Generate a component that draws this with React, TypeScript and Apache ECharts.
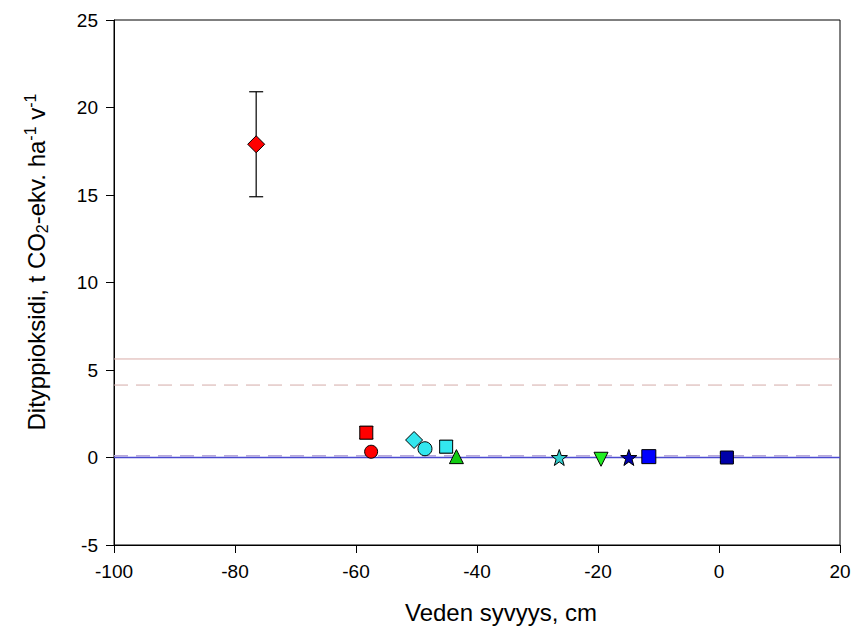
import React, { useEffect, useRef } from "react";
import * as echarts from "echarts";

const depths = [-76.5, -58.3, -57.5, -50.4, -48.6, -45.1, -43.4, -26.4, -19.5, -14.9, -11.6, 1.3];
const emissions = [17.9, 1.42, 0.33, 1.0, 0.5, 0.62, 0.05, 0.0, -0.1, 0.0, 0.05, 0.0];
const errors = [3.0, 0.35, 0, 0, 0, 0.35, 0, 0, 0, 0, 0, 0.25];
const markerShapes = ["diamond", "rect", "circle", "diamond", "circle", "rect", "triangle", "star", "triangleDown", "star", "rect", "rect"];
const markerColors = ["#ff0000", "#ff0000", "#ff0000", "#33e6ee", "#33e6ee", "#33e6ee", "#11cc11", "#33cccc", "#22ee22", "#0000b0", "#0000ff", "#0000a8"];
const markerSizes = [17, 13, 13, 17, 14, 13, 14, 16, 14, 16, 14, 13];

const refLevels = [5.63, 4.14, 0.1, 0.0];
const refColors = ["#d9aca8", "#d4aca8", "#b8a8dc", "#4a4ad0"];
const refTypes = ["solid", "dashed", "dashed", "solid"];
const refWidths = [1, 1, 1.5, 1.5];

const xTicks = { min: -100, max: 20, interval: 20 };
const yTicks = { min: -5, max: 25, interval: 5 };

const xTitle = "Veden syvyys, cm";
const yTitleParts = ["Dityppioksidi, t CO", "2", "-ekv. ha", "-1", " v", "-1"];

const STAR = "path://M0,-10 L2.35,-3.24 L9.51,-3.09 L3.8,1.24 L5.88,8.09 L0,4 L-5.88,8.09 L-3.8,1.24 L-9.51,-3.09 L-2.35,-3.24 Z";

function symbolFor(s: string) {
  if (s === "star") return STAR;
  if (s === "triangleDown") return "triangle";
  return s;
}

export default function App() {
  const ref = useRef<HTMLDivElement>(null);
  useEffect(() => {
    if (!ref.current) return;
    const chart = echarts.init(ref.current, null, { renderer: "svg" });
    const font = "Liberation Sans, Arial, sans-serif";

    const refSeries = refLevels.map((lv, i) => ({
      type: "line",
      data: [[xTicks.min, lv], [xTicks.max, lv]],
      symbol: "none",
      silent: true,
      z: 1,
      lineStyle: { color: refColors[i], width: refWidths[i], type: refTypes[i] === "dashed" ? [14, 8] : "solid" },
    }));

    const errData = depths.map((x, i) => [x, emissions[i], errors[i]]).filter((d) => d[2] > 0);

    const yTitle =
      `{t|${yTitleParts[0]}}{sub|${yTitleParts[1]}}{t|${yTitleParts[2]}}{sup|${yTitleParts[3]}}{t|${yTitleParts[4]}}{sup|${yTitleParts[5]}}`;

    const option: any = {
      animation: false,
      grid: { left: 114, right: 14, top: 20, bottom: 89, show: true, borderColor: "#000", borderWidth: 1, backgroundColor: "transparent" },
      graphic: [
        {
          type: "text",
          x: 501,
          y: 612,
          style: { text: xTitle, font: `24px ${font}`, fill: "#000", textAlign: "center", textVerticalAlign: "middle" },
        },
        {
          type: "text",
          x: 36,
          y: 262,
          rotation: Math.PI / 2,
          style: {
            text: yTitle,
            textAlign: "center",
            textVerticalAlign: "middle",
            rich: {
              t: { fontFamily: font, fontSize: 24, fill: "#000", color: "#000" },
              sub: { fontFamily: font, fontSize: 16, fill: "#000", color: "#000", verticalAlign: "bottom", padding: [12, 0, 0, 0] },
              sup: { fontFamily: font, fontSize: 16, fill: "#000", color: "#000", verticalAlign: "top", padding: [0, 0, 12, 0] },
            },
          },
        },
      ],
      xAxis: {
        type: "value",
        min: xTicks.min,
        max: xTicks.max,
        interval: xTicks.interval,
        axisLine: { show: true, onZero: false, lineStyle: { color: "#000", width: 1 } },
        axisTick: { show: true, length: 8, inside: false, lineStyle: { color: "#000" } },
        axisLabel: { fontFamily: font, fontSize: 19, color: "#000", margin: 17 },
        splitLine: { show: false },
      },
      yAxis: {
        type: "value",
        min: yTicks.min,
        max: yTicks.max,
        interval: yTicks.interval,
        axisLine: { show: true, onZero: false, lineStyle: { color: "#000", width: 1 } },
        axisTick: { show: true, length: 8, inside: false, lineStyle: { color: "#000" } },
        axisLabel: { fontFamily: font, fontSize: 19, color: "#000", margin: 16 },
        splitLine: { show: false },
      },
      series: [
        ...refSeries,
        {
          type: "custom",
          z: 2,
          silent: true,
          data: errData,
          renderItem: (params: any, api: any) => {
            const x = api.value(0), y = api.value(1), e = api.value(2);
            const top = api.coord([x, y + e]);
            const bot = api.coord([x, y - e]);
            const cap = 7;
            const st = { stroke: "#000", lineWidth: 1.2 };
            return {
              type: "group",
              children: [
                { type: "line", shape: { x1: top[0], y1: top[1], x2: bot[0], y2: bot[1] }, style: st },
                { type: "line", shape: { x1: top[0] - cap, y1: top[1], x2: top[0] + cap, y2: top[1] }, style: st },
                { type: "line", shape: { x1: bot[0] - cap, y1: bot[1], x2: bot[0] + cap, y2: bot[1] }, style: st },
              ],
            };
          },
        },
        {
          type: "scatter",
          z: 3,
          data: depths.map((x, i) => ({
            value: [x, emissions[i]],
            symbol: symbolFor(markerShapes[i]),
            symbolSize: markerSizes[i],
            symbolRotate: markerShapes[i] === "triangleDown" ? 180 : 0,
            itemStyle: { color: markerColors[i], borderColor: "#000", borderWidth: 1, opacity: 1 },
          })),
        },
      ],
    };
    chart.setOption(option);
    return () => chart.dispose();
  }, []);
  return <div ref={ref} style={{ width: 854, height: 634, position: "absolute", left: 0, top: 0 }} />;
}
